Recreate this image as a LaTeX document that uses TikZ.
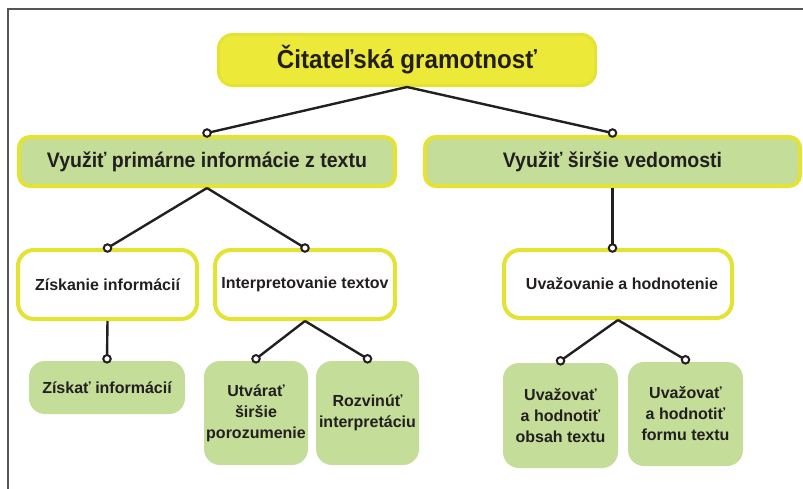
\documentclass[tikz,border=0pt]{standalone}
\usepackage{fontspec}
\setmainfont{Liberation Sans}
\newfontfamily\headfont{Liberation Sans}[FakeStretch=0.93]
\definecolor{ylw}{RGB}{237,233,56}
\definecolor{ylwline}{RGB}{228,226,50}
\definecolor{grn}{RGB}{196,221,152}
\definecolor{txt}{RGB}{35,31,32}
\definecolor{framec}{RGB}{85,85,85}
\tikzset{
  topbox/.style={rectangle, rounded corners=14pt, fill=ylw, draw=ylwline, line width=3pt,
    inner sep=0pt, text=txt, font=\headfont\bfseries\fontsize{26}{30}\selectfont},
  lvtwo/.style={rectangle, rounded corners=11pt, fill=grn, draw=ylwline, line width=4pt,
    inner sep=0pt, text=txt, font=\headfont\bfseries\fontsize{21}{25}\selectfont},
  lvthree/.style={rectangle, rounded corners=16pt, fill=white, draw=ylwline, line width=4pt,
    inner sep=0pt, text=txt, font=\bfseries\fontsize{16}{21}\selectfont, align=center},
  lvfour/.style={rectangle, rounded corners=16pt, fill=grn, draw=none,
    inner sep=0pt, text=txt, font=\bfseries\fontsize{16}{21}\selectfont, align=center},
  conn/.style={draw=txt, line width=2.4pt},
  dotc/.style={circle, draw=txt, fill=white, line width=2pt, minimum size=7.5pt, inner sep=0pt},
  framel/.style={draw=framec, line width=1.6pt}
}
\begin{document}
\begin{tikzpicture}[x=1pt,y=-1pt]
\useasboundingbox (0,0) rectangle (803,488);
\fill[white] (0,0) rectangle (803,488);
\draw[framel] (8,489) -- (8,9) -- (804,9);

% nodes
\node[topbox, minimum width=377pt, minimum height=51pt] (top) at (407,60) {Čitateľská gramotnosť};
\node[lvtwo, minimum width=376pt, minimum height=49pt] (L2a) at (207,161.5) {Využiť primárne informácie z textu};
\node[lvtwo, minimum width=375pt, minimum height=49pt] (L2b) at (612.5,161.5) {Využiť širšie vedomosti};
\node[lvthree, minimum width=179pt, minimum height=69pt] (L3a) at (107.5,284.5) {Získanie informácií};
\node[lvthree, minimum width=180pt, minimum height=69pt] (L3b) at (305,284.5) {Interpretovanie textov};
\node[lvthree, minimum width=228pt, minimum height=68pt] (L3c) at (618,284) {\hspace*{8pt}Uvažovanie a hodnotenie};
\node[lvfour, minimum width=156pt, minimum height=53pt] (L4a) at (107,387.5) {Získať informácií};
\node[lvfour, minimum width=104pt, minimum height=104pt] (L4b) at (256,413) {Utvárať\\širšie\\porozumenie};
\node[lvfour, minimum width=103pt, minimum height=104pt] (L4c) at (367.5,413) {Rozvinúť\\interpretáciu};
\node[lvfour, minimum width=115pt, minimum height=105pt] (L4d) at (560.5,415.5) {Uvažovať\\a hodnotiť\\obsah textu};
\node[lvfour, minimum width=115pt, minimum height=104pt] (L4e) at (685.5,414) {Uvažovať\\a hodnotiť\\formu textu};

% connector end points
\coordinate (c2a) at ([yshift=2pt]L2a.north);
\coordinate (c2b) at ([yshift=2pt]L2b.north);
\coordinate (c3a) at (L3a.north);
\coordinate (c3b) at (L3b.north);
\coordinate (c3c) at (L2b.south |- L3c.north);
\coordinate (c4a) at ([yshift=2pt]L4a.north);
\coordinate (c4b) at ([yshift=2pt]L4b.north);
\coordinate (c4c) at ([yshift=2pt]L4c.north);
\coordinate (c4d) at ([yshift=2pt]L4d.north);
\coordinate (c4e) at ([yshift=2pt]L4e.north);

% connectors
\draw[conn] (top.south) -- (c2a);
\draw[conn] (top.south) -- (c2b);
\draw[conn] (L2a.south) -- (c3a);
\draw[conn] (L2a.south) -- (c3b);
\draw[conn] (L2b.south) -- (c3c);
\draw[conn] (L3a.south) -- (c4a);
\draw[conn] (L3b.south) -- (c4b);
\draw[conn] (L3b.south) -- (c4c);
\draw[conn] (L3c.south) -- (c4d);
\draw[conn] (L3c.south) -- (c4e);

% end circles
\foreach \c in {c2a,c2b,c3a,c3b,c3c,c4a,c4b,c4c,c4d,c4e}
  \node[dotc] at (\c) {};
\end{tikzpicture}
\end{document}
